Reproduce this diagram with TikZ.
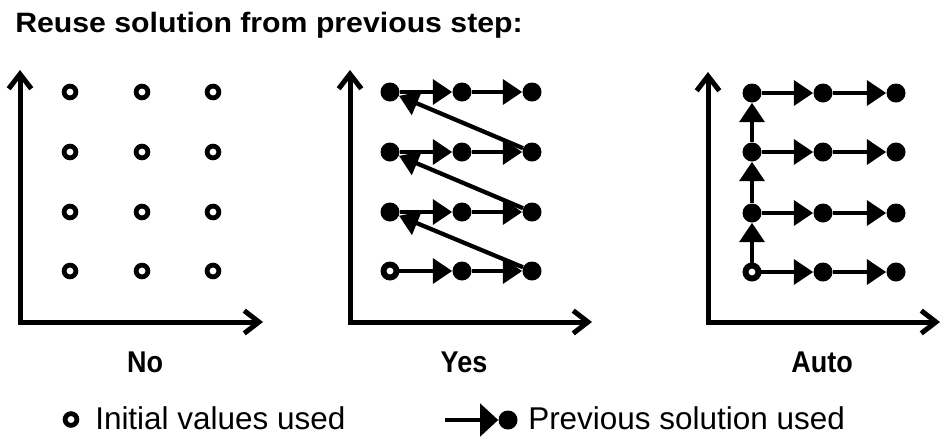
\documentclass[tikz,border=0pt]{standalone}
\usepackage{fontspec}
\setmainfont{Liberation Sans}
\newfontfamily\titlefont[FakeStretch=1.08]{Liberation Sans}
\newfontfamily\labelfont[FakeStretch=0.9]{Liberation Sans}
\usetikzlibrary{arrows.meta}
\begin{document}
\begin{tikzpicture}[x=0.75pt,y=-0.75pt,
  axis/.style={line width=3.75pt, line join=miter,
    {Straight Barb[length=11pt,width=17pt,sharp]}-{Straight Barb[length=11pt,width=17pt,sharp]}},
  dot/.style={circle, fill=black, inner sep=0pt, minimum size=14.25pt},
  opendot/.style={circle, draw=black, fill=white, line width=3.6pt, inner sep=0pt, minimum size=8.8pt},
  stepar/.style={line width=3.2pt, -{Triangle[length=14.5pt,width=18.5pt]}},
  legar/.style={line width=3.2pt, -{Triangle[length=13.5pt,width=24pt]}},
  lab/.style={anchor=base, inner sep=0pt, font=\labelfont\bfseries\fontsize{22.5pt}{27pt}\selectfont},
  legtext/.style={anchor=base west, inner sep=0pt, font=\fontsize{23.6pt}{28pt}\selectfont}]
\useasboundingbox (0,0) rectangle (941,437);
\fill[white] (0,0) rectangle (941,437);

% title
\node[anchor=base west, inner sep=0pt, font=\titlefont\bfseries\fontsize{21pt}{25pt}\selectfont] (title) at (15,32) {Reuse solution from previous step:};

% ---------- Panel 1: No ----------
\coordinate (o1) at (20,322);
\coordinate (y1) at (20,70);
\coordinate (x1) at (263,322);
\draw[axis] (y1) -- (o1) -- (x1);
\foreach \i/\x in {1/70,2/142,3/213}{
  \foreach \j/\y in {1/271,2/212,3/152,4/92}{
    \node[opendot] (a-\i-\j) at (\x,\y) {};
  }
}
\node[lab] (labno) at (145,372) {No};

% ---------- Panel 2: Yes ----------
\coordinate (o2) at (350,322);
\coordinate (y2) at (350,70);
\coordinate (x2) at (592,322);
\draw[axis] (y2) -- (o2) -- (x2);
\foreach \i/\x in {1/390,2/462,3/532}{
  \foreach \j/\y in {1/271,2/212,3/152,4/92}{
    \node[dot] (b-\i-\j) at (\x,\y) {};
  }
}
\node[opendot] (b-1-1) at (390,271) {};
\foreach \j/\k in {1/2,2/3,3/4}{
  \draw[stepar] (b-3-\j) -- (b-1-\k);
}
\foreach \j in {1,2,3,4}{
  \draw[stepar] (b-1-\j) -- (b-2-\j);
  \draw[stepar] (b-2-\j) -- (b-3-\j);
}
\node[lab] (labyes) at (464,372) {Yes};

% ---------- Panel 3: Auto ----------
\coordinate (o3) at (708,322);
\coordinate (y3) at (708,72);
\coordinate (x3) at (940,322);
\draw[axis] (y3) -- (o3) -- (x3);
\foreach \i/\x in {1/752,2/823,3/896}{
  \foreach \j/\y in {1/272,2/213,3/152,4/93}{
    \node[dot] (c-\i-\j) at (\x,\y) {};
  }
}
\node[opendot] (c-1-1) at (752,272) {};
\foreach \j/\k in {1/2,2/3,3/4}{
  \draw[stepar] (c-1-\j) -- (c-1-\k);
}
\foreach \j in {1,2,3,4}{
  \draw[stepar] (c-1-\j) -- (c-2-\j);
  \draw[stepar] (c-2-\j) -- (c-3-\j);
}
\node[lab] (labauto) at (822,372) {Auto};

% ---------- Legend ----------
\node[opendot] (legcirc) at (71,419.5) {};
\node[legtext] (leginit) at (95,429) {Initial values used};
\coordinate (legstart) at (445,420);
\node[dot, minimum size=14.25pt] (legdot) at (508,420) {};
\draw[legar] (legstart) -- (legdot);
\node[legtext] (legprev) at (528,429) {Previous solution used};
\end{tikzpicture}
\end{document}
